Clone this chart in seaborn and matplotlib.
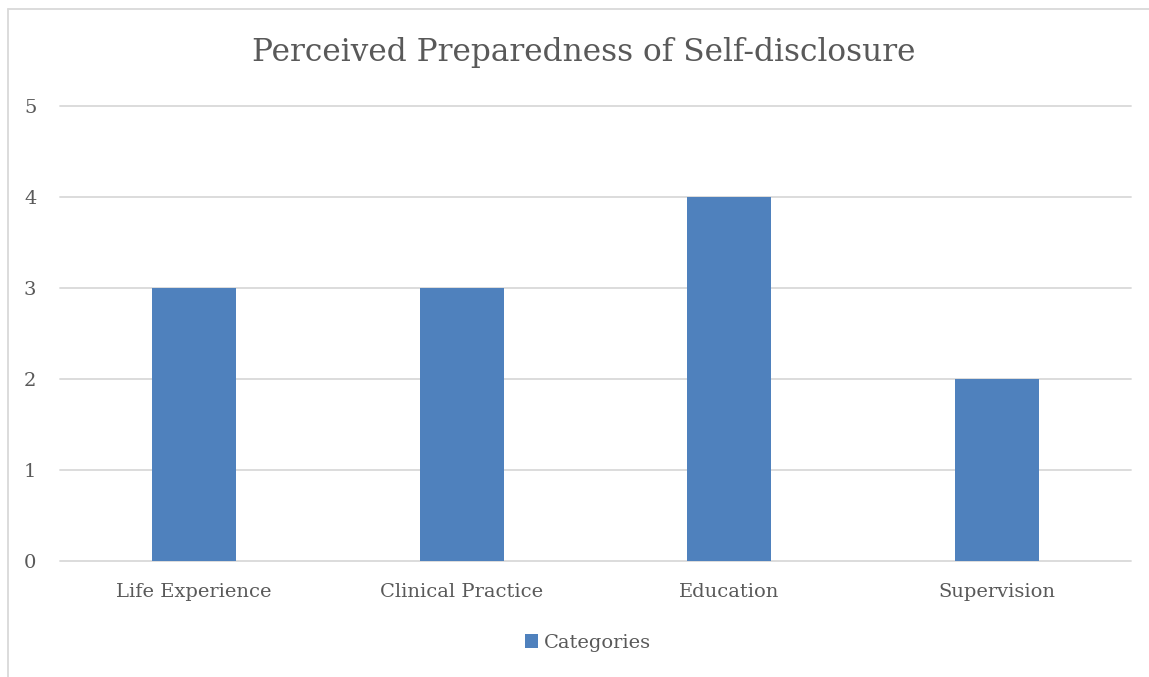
import matplotlib
matplotlib.use("Agg")
import matplotlib.pyplot as plt
from matplotlib.lines import Line2D
from matplotlib.patches import Patch
import seaborn as sns
import pandas as pd

categories = ["Life Experience", "Clinical Practice", "Education", "Supervision"]
values = [3, 3, 4, 2]
y_ticks = [0, 1, 2, 3, 4, 5]
series_name = "Categories"
title = "Perceived Preparedness of Self-disclosure"

bar_color = "#4F81BD"
text_color = "#595959"
grid_color = "#D9D9D9"

sns.set_theme(style="white")
plt.rcParams["font.family"] = ["DejaVu Serif"]

df = pd.DataFrame({"category": categories, "value": values})

W, H = 1149, 677
fig = plt.figure(figsize=(W / 100, H / 100), dpi=100)
ax = fig.add_axes([60 / W, 1 - 561 / H, (1131 - 60) / W, (561 - 106) / H])

sns.barplot(data=df, x="category", y="value", color=bar_color, width=0.314,
            saturation=1, linewidth=0, ax=ax, zorder=3)

ax.set_ylim(0, 5)
ax.set_yticks(y_ticks)
ax.set_xlim(-0.5, len(categories) - 0.5)
ax.yaxis.grid(True, color=grid_color, linewidth=1.3, zorder=0)
for gl in ax.get_ygridlines():
    gl.set_clip_on(False)
ax.set_axisbelow(True)
for side in ["top", "right", "left", "bottom"]:
    ax.spines[side].set_visible(False)
ax.set_xlabel("")
ax.set_ylabel("")
ax.tick_params(axis="y", length=0, labelsize=14, colors=text_color, pad=17)
ax.tick_params(axis="x", length=0, labelsize=14, colors=text_color, pad=16)

fig.text(584 / W, 1 - 52 / H, title, ha="center", va="center",
         fontsize=22.5, color=text_color)

handles = [Patch(facecolor=bar_color, edgecolor="none", label=series_name)]
fig.legend(handles=handles, loc="center", bbox_to_anchor=(588 / W, 1 - 643 / H),
           frameon=False, fontsize=14, handlelength=0.7, handleheight=0.7,
           handletextpad=0.3, labelcolor=text_color)

# chart frame
fig.add_artist(Line2D([8 / W, 1], [1 - 9 / H, 1 - 9 / H], transform=fig.transFigure,
                      color="#D9D9D9", linewidth=1.3))
fig.add_artist(Line2D([8 / W, 8 / W], [0, 1 - 9 / H], transform=fig.transFigure,
                      color="#D9D9D9", linewidth=1.3))

fig.savefig("out.png", dpi=100, facecolor="white")
